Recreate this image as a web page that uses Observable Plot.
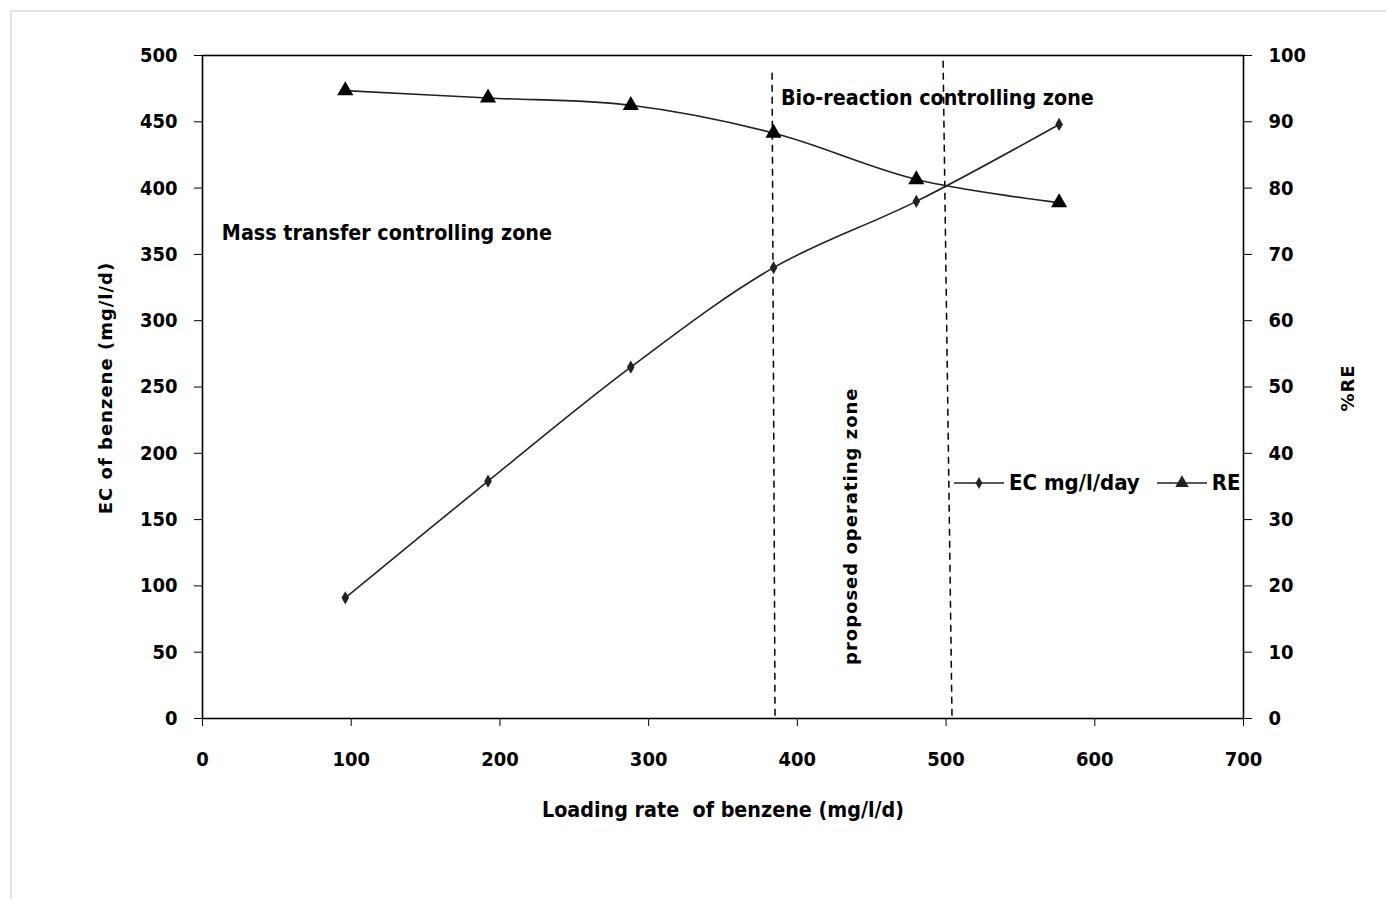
<!DOCTYPE html>
<html>
<head>
<meta charset="utf-8">
<script src="https://cdn.jsdelivr.net/npm/d3@7"></script>
<script src="https://cdn.jsdelivr.net/npm/@observablehq/plot@0.6"></script>
<style>
  html, body { margin: 0; padding: 0; background: #fff; }
  #wrap { position: relative; width: 1386px; height: 899px; overflow: hidden; }
  #border { position: absolute; left: 10px; top: 10px; right: 0; bottom: 0;
            border-top: 2px solid #e3e3e3; border-left: 2px solid #e3e3e3; }
  #chart { position: absolute; left: 0; top: 0; }
  .lbl { position: absolute; font-family: "Liberation Sans Narrow", "DejaVu Sans Condensed", "Liberation Sans", Arial, sans-serif;
         font-weight: bold; color: #000; white-space: nowrap; }
  #legend { position: absolute; left: 953px; top: 470px; display: flex; align-items: center;
            font-family: "Liberation Sans Narrow", "DejaVu Sans Condensed", "Liberation Sans", Arial, sans-serif;
            font-weight: bold; font-size: 22px; }
  #legend span { margin-left: 4px; margin-right: 16px; }
</style>
</head>
<body>
<div id="wrap">
  <div id="border"></div>
  <div id="chart"></div>
  <div class="lbl" id="xlabel" style="left:542px; top:797px; font-size:21.3px;">Loading rate&nbsp; of benzene (mg/l/d)</div>
  <div class="lbl" id="ylabel" style="left:105px; top:388px; font-size:18px; letter-spacing:1px; font-family:'DejaVu Sans','Liberation Sans',sans-serif; transform: translate(-50%,-50%) rotate(-90deg);">EC of benzene (mg/l/d)</div>
  <div class="lbl" id="y2label" style="left:1347px; top:388px; font-size:18px; letter-spacing:1px; font-family:'DejaVu Sans','Liberation Sans',sans-serif; transform: translate(-50%,-50%) rotate(-90deg);">%RE</div>
  <div id="legend"></div>
</div>
<script>
// ---- data ----
const loadingRate = [96, 192, 288, 384, 480, 576];
const ecValues = [91, 179, 265, 340, 390, 448];
const reValues = [94.7, 93.6, 92.5, 88.3, 81.3, 77.8];
const xTicks = [0, 100, 200, 300, 400, 500, 600, 700];
const ecTicks = [0, 50, 100, 150, 200, 250, 300, 350, 400, 450, 500];
const reTicks = [0, 10, 20, 30, 40, 50, 60, 70, 80, 90, 100];
const zoneBoundaryTopX = [383, 498];
const zoneBoundaryBottomX = [385, 504];
const zoneBoundaryTopEC = [487, 496];
const zoneNames = ["Mass transfer controlling zone", "Bio-reaction controlling zone"];
const zoneNameX = [13, 389];
const zoneNameEC = [366, 468];
const operatingZoneName = "proposed operating zone";
const operatingZoneX = [436];
const operatingZoneEC = [145];
const legendLabels = ["EC mg/l/day", "RE"];

const reScale = 500 / 100; // right axis maps 0-100 onto left 0-500

const ecData = loadingRate.map((x, i) => ({x, y: ecValues[i]}));
const reData = loadingRate.map((x, i) => ({x, y: reValues[i] * reScale}));
const boundaries = zoneBoundaryTopX.map((x1, i) => ({x1, y1: zoneBoundaryTopEC[i], x2: zoneBoundaryBottomX[i], y2: 0}));
const zoneText = zoneNames.map((t, i) => ({t, x: zoneNameX[i], y: zoneNameEC[i]}));
const opText = [{t: operatingZoneName, x: operatingZoneX[0], y: operatingZoneEC[0]}];

const font = '"Liberation Sans Narrow", "DejaVu Sans Condensed", "Liberation Sans", Arial, sans-serif';

const chart = Plot.plot({
  width: 1386,
  height: 899,
  marginLeft: 202,
  marginRight: 143,
  marginTop: 55,
  marginBottom: 181,
  style: {fontFamily: font, fontWeight: "bold", fontSize: "20px", color: "#000", background: "transparent"},
  x: {domain: [0, 700]},
  y: {domain: [0, 500]},
  marks: [
    Plot.frame({stroke: "#000", strokeWidth: 1.6}),
    Plot.axisX({ticks: xTicks, tickSize: 8, tickPadding: 25, label: null, fontSize: 20}),
    Plot.axisY({anchor: "left", ticks: ecTicks, tickSize: 8, tickPadding: 17, label: null, fontSize: 20}),
    Plot.axisY({anchor: "right", ticks: reTicks.map(d => d * reScale), tickFormat: d => d / reScale,
                tickSize: 8, tickPadding: 17, label: null, fontSize: 20}),
    Plot.link(boundaries, {x1: "x1", y1: "y1", x2: "x2", y2: "y2", stroke: "#000", strokeWidth: 1.5, strokeDasharray: "7,5"}),
    Plot.line(ecData, {x: "x", y: "y", curve: "catmull-rom", stroke: "#222", strokeWidth: 1.6}),
    Plot.line(reData, {x: "x", y: "y", curve: "catmull-rom", stroke: "#222", strokeWidth: 1.6}),
    Plot.dot(ecData, {x: "x", y: "y", symbol: "diamond", r: 4, fill: "#222", stroke: "none"}),
    Plot.dot(reData, {x: "x", y: "y", symbol: "triangle", r: 6, fill: "#000", stroke: "none"}),
    Plot.text(zoneText, {x: "x", y: "y", text: "t", textAnchor: "start", fontSize: 21.3, fontWeight: "bold", fill: "#000"}),
    Plot.text(opText, {x: "x", y: "y", text: "t", rotate: -90, fontSize: 18, fontWeight: "bold", fill: "#000",
                       fontFamily: "'DejaVu Sans', 'Liberation Sans', sans-serif"})
  ]
});
document.getElementById("chart").appendChild(chart);
// spread the rotated operating-zone label like the reference
d3.select(chart).selectAll('g[aria-label="text"]').filter((d, i) => i === 1).selectAll("text").style("letter-spacing", "1px");

// legend
const legend = document.getElementById("legend");
const symbols = [d3.symbolDiamond, d3.symbolTriangle];
const sizes = [40, 80];
legendLabels.forEach((lab, i) => {
  const svg = d3.create("svg").attr("width", 52).attr("height", 24);
  svg.append("line").attr("x1", 1).attr("x2", 51).attr("y1", 12).attr("y2", 12).attr("stroke", "#222").attr("stroke-width", 1.6);
  svg.append("path").attr("d", d3.symbol(symbols[i], sizes[i])()).attr("transform", "translate(26,12)").attr("fill", "#222");
  legend.appendChild(svg.node());
  const s = document.createElement("span");
  s.textContent = lab;
  legend.appendChild(s);
});
</script>
</body>
</html>
